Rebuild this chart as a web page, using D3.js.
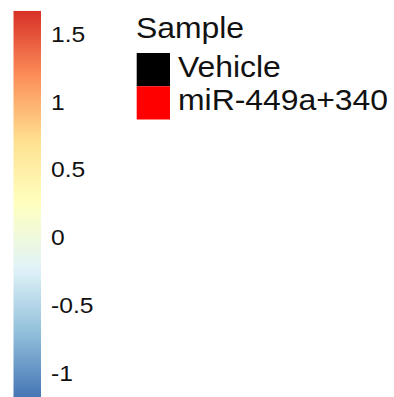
<!DOCTYPE html>
<html>
<head>
<meta charset="utf-8">
<script src="https://cdn.jsdelivr.net/npm/d3@7"></script>
<style>
  html, body { margin: 0; padding: 0; background: #fff; }
  svg { display: block; }
  text { font-family: "Liberation Sans", Arial, sans-serif; fill: #111; }
</style>
</head>
<body>
<div id="chart"></div>
<script>
// heatmap value range and palette (rev RdYlBu, 7 colours)
const valueRange = [-1.18, 1.67];
const palette = ["#4575B4", "#91BFDB", "#E0F3F8", "#FFFFBF", "#FEE090", "#FC8D59", "#D73027"];
const tickValues = [-1, -0.5, 0, 0.5, 1, 1.5];
const tickLabels = ["-1", "-0.5", "0", "0.5", "1", "1.5"];

// annotation legend
const legendTitle = "Sample";
const sampleGroups = ["Vehicle", "miR-449a+340"];
const sampleColors = ["#000000", "#FF0000"];

const width = 394, height = 397;
const stretch = 1.1; // glyphs in the original are a bit wide

const svg = d3.select("#chart")
  .append("svg")
  .attr("width", width)
  .attr("height", height);

// value -> y pixel
const yScale = d3.scaleLinear()
  .domain([0, 1.5])
  .range([237.5, 34]);

const barX = 13.5, barW = 27.5;

// gradient for the colour bar
const colorScale = d3.scaleLinear()
  .domain(palette.map((c, i) => valueRange[0] + i * (valueRange[1] - valueRange[0]) / (palette.length - 1)))
  .range(palette);

const grad = svg.append("defs").append("linearGradient")
  .attr("id", "bar-grad")
  .attr("x1", 0).attr("y1", 1).attr("x2", 0).attr("y2", 0);

d3.range(0, 1.0001, 0.02).forEach(t => {
  const v = valueRange[0] + t * (valueRange[1] - valueRange[0]);
  grad.append("stop")
    .attr("offset", t)
    .attr("stop-color", colorScale(v));
});

svg.append("rect")
  .attr("x", barX)
  .attr("y", yScale(valueRange[1]))
  .attr("width", barW)
  .attr("height", yScale(valueRange[0]) - yScale(valueRange[1]))
  .attr("fill", "url(#bar-grad)");

// tick labels
svg.append("g")
  .selectAll("text")
  .data(tickValues)
  .enter()
  .append("text")
  .attr("transform", d => "translate(51," + (yScale(d) + 7.8) + ") scale(1.12,1)")
  .style("font-size", "22px")
  .text((d, i) => tickLabels[i]);

// sample legend
svg.append("text")
  .attr("transform", "translate(136,37.7) scale(" + stretch + ",1)")
  .style("font-size", "29px")
  .text(legendTitle);

const band = d3.scaleBand()
  .domain(sampleGroups)
  .range([53, 119.5]);

svg.append("g")
  .selectAll("rect")
  .data(sampleGroups)
  .enter()
  .append("rect")
  .attr("x", 136.7)
  .attr("y", d => band(d))
  .attr("width", 33.3)
  .attr("height", band.bandwidth())
  .attr("fill", (d, i) => sampleColors[i]);

svg.append("g")
  .selectAll("text")
  .data(sampleGroups)
  .enter()
  .append("text")
  .attr("transform", d => "translate(178," + (band(d) + band.bandwidth() / 2 + 7.5) + ") scale(" + stretch + ",1)")
  .style("font-size", "29px")
  .text(d => d);
</script>
</body>
</html>
